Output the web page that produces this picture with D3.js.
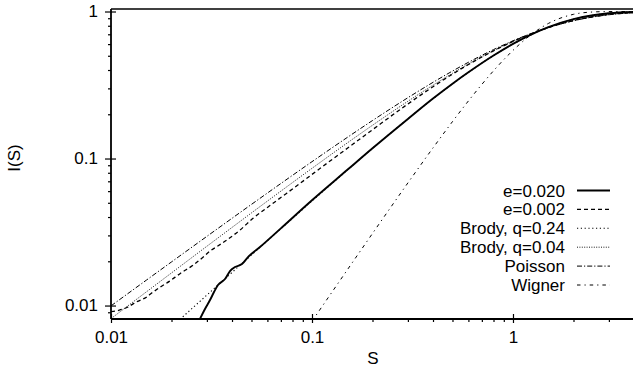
<!DOCTYPE html>
<html>
<head>
<meta charset="utf-8">
<script src="https://cdn.jsdelivr.net/npm/d3@7"></script>
<style>
  body { margin: 0; background: #fff; }
  svg text { font-family: "Liberation Sans", Arial, sans-serif; fill: #000; }
</style>
</head>
<body>
<div id="chart"></div>
<script>
// tick values
const xMajor = [0.01, 0.1, 1];
const yMajor = [0.01, 0.1, 1];
const xMinor = [0.02, 0.03, 0.04, 0.05, 0.06, 0.07, 0.08, 0.09, 0.2, 0.3, 0.4, 0.5, 0.6, 0.7, 0.8, 0.9, 2, 3, 4];
const yMinor = [0.009, 0.02, 0.03, 0.04, 0.05, 0.06, 0.07, 0.08, 0.09, 0.2, 0.3, 0.4, 0.5, 0.6, 0.7, 0.8, 0.9];

// series: S values and I(S) values
const sGrid = [0.01, 0.015, 0.02, 0.03, 0.04, 0.05, 0.07, 0.1, 0.15, 0.2, 0.3, 0.4, 0.5, 0.6, 0.8, 1.0, 1.2, 1.5, 2.0, 2.5, 3.0, 4.0];
const poissonI = [0.00995, 0.01489, 0.0198, 0.02955, 0.03921, 0.04877, 0.06761, 0.09516, 0.1393, 0.1813, 0.2592, 0.3297, 0.3935, 0.4512, 0.5507, 0.6321, 0.6988, 0.7769, 0.8647, 0.9179, 0.9502, 0.9817];
const brody04I = [0.008145, 0.01239, 0.01667, 0.02531, 0.03398, 0.04267, 0.06, 0.08576, 0.1278, 0.1684, 0.2451, 0.3155, 0.38, 0.439, 0.5414, 0.6258, 0.6953, 0.7766, 0.8676, 0.9219, 0.9541, 0.9843];

const brody24S = [0.02, 0.025, 0.03, 0.04, 0.05, 0.07, 0.1, 0.15, 0.2, 0.3, 0.4, 0.5, 0.6, 0.8, 1.0, 1.2, 1.5, 2.0, 2.5, 3.0, 4.0];
const brody24I = [0.007146, 0.009413, 0.011785, 0.0168, 0.02209, 0.03333, 0.05139, 0.08354, 0.1172, 0.1862, 0.255, 0.3217, 0.3853, 0.5011, 0.6003, 0.6832, 0.7804, 0.8853, 0.9425, 0.9722, 0.994];

const wignerS = [0.1, 0.12, 0.15, 0.2, 0.3, 0.4, 0.5, 0.6, 0.7, 0.8, 1.0, 1.2, 1.5, 2.0, 2.5, 3.0, 4.0];
const wignerI = [0.007823, 0.01125, 0.01752, 0.03093, 0.06825, 0.1181, 0.1783, 0.2463, 0.3194, 0.3951, 0.5441, 0.6773, 0.8292, 0.9568, 0.9926, 0.99915, 1.0];

const e020S = [0.0277, 0.02935, 0.03109, 0.03254, 0.03406, 0.03692, 0.03908, 0.04139, 0.04483, 0.04803, 0.0551, 0.07, 0.1, 0.15, 0.2, 0.3, 0.4, 0.5, 0.6, 0.8, 1.0, 1.2, 1.5, 2.0, 2.5, 3.0, 4.0];
const e020I = [0.0081, 0.00947, 0.0109, 0.01235, 0.01378, 0.01515, 0.01717, 0.01827, 0.01915, 0.02137, 0.025, 0.0335, 0.052, 0.0838, 0.1175, 0.186, 0.256, 0.323, 0.386, 0.502, 0.602, 0.685, 0.782, 0.887, 0.943, 0.972, 0.993];

const e002S = [0.01, 0.011, 0.012, 0.0134, 0.015, 0.016, 0.0175, 0.0195, 0.0222, 0.0256, 0.029, 0.0311, 0.034, 0.0378, 0.0438, 0.0509, 0.06, 0.07, 0.085, 0.1, 0.15, 0.2, 0.3, 0.4, 0.5, 0.6, 0.8, 1.0, 1.2, 1.5, 2.0, 2.5, 3.0, 4.0];
const e002I = [0.0091, 0.0093, 0.0097, 0.0106, 0.0114, 0.0122, 0.0133, 0.0146, 0.0166, 0.0188, 0.0216, 0.0235, 0.0254, 0.028, 0.0326, 0.0392, 0.0465, 0.0543, 0.066, 0.078, 0.1175, 0.157, 0.235, 0.308, 0.375, 0.436, 0.54, 0.626, 0.696, 0.777, 0.868, 0.922, 0.954, 0.984];

const legendLabels = ["e=0.020", "e=0.002", "Brody, q=0.24", "Brody, q=0.04", "Poisson", "Wigner"];

const width = 633, height = 370;
const fontSize = "17px";
const svg = d3.select("#chart").append("svg").attr("width", width).attr("height", height);

const x = d3.scaleLog().domain([0.01, 4]).range([111, 634]);
const y = d3.scaleLog().domain([0.0081, 1.04]).range([319, 9]);

const zip = (s, v) => s.map((d, i) => [d, v[i]]);

const series = [
  { pts: zip(e020S, e020I), dash: null, w: 1.9 },
  { pts: zip(e002S, e002I), dash: "4,3", w: 1.3 },
  { pts: zip(brody24S, brody24I), dash: "1.2,2.6", w: 1.1 },
  { pts: zip(sGrid, brody04I), dash: "1,1.4", w: 0.9 },
  { pts: zip(sGrid, poissonI), dash: "5,2,1.2,2", w: 1 },
  { pts: zip(wignerS, wignerI), dash: "3.5,4,1.2,4", w: 1 }
];

svg.append("clipPath").attr("id", "plot-clip")
  .append("rect").attr("x", 111).attr("y", 9).attr("width", 523).attr("height", 310);

const line = d3.line()
  .x(d => x(d[0]))
  .y(d => y(d[1]))
  .curve(d3.curveMonotoneX);

const plot = svg.append("g").attr("clip-path", "url(#plot-clip)");
plot.selectAll("path.curve").data(series).enter().append("path")
  .attr("class", "curve")
  .attr("d", d => line(d.pts))
  .attr("fill", "none")
  .attr("stroke", "#000")
  .attr("stroke-width", d => d.w)
  .attr("stroke-dasharray", d => d.dash);

// frame (top border)
svg.append("line").attr("x1", 111).attr("x2", 633).attr("y1", 9).attr("y2", 9)
  .attr("stroke", "#000").attr("stroke-width", 1.6);

// axes
function styleAxis(g) {
  g.select(".domain").remove();
  g.selectAll("line").attr("stroke", "#000").attr("stroke-width", 1.2);
  g.selectAll("text").style("font-size", fontSize);
}

// x minor ticks (outward)
svg.append("g").attr("transform", "translate(0,319)")
  .call(d3.axisBottom(x).tickValues(xMinor).tickSize(3).tickFormat(""))
  .call(styleAxis);
// x major ticks crossing the axis
svg.append("g").attr("transform", "translate(0,319)")
  .call(d3.axisBottom(x).tickValues(xMajor).tickSize(-5).tickFormat(""))
  .call(styleAxis);
svg.append("g").attr("transform", "translate(0,319)")
  .call(d3.axisBottom(x).tickValues(xMajor).tickSize(4).tickPadding(8).tickFormat(d3.format("~g")))
  .call(styleAxis);

// y minor ticks (outward)
svg.append("g").attr("transform", "translate(111,0)")
  .call(d3.axisLeft(y).tickValues(yMinor).tickSize(3).tickFormat(""))
  .call(styleAxis);
svg.append("g").attr("transform", "translate(111,0)")
  .call(d3.axisLeft(y).tickValues(yMajor).tickSize(-5).tickFormat(""))
  .call(styleAxis);
svg.append("g").attr("transform", "translate(111,0)")
  .call(d3.axisLeft(y).tickValues(yMajor).tickSize(6).tickPadding(7).tickFormat(d3.format("~g")))
  .call(styleAxis);

// axis lines
svg.append("line").attr("x1", 111).attr("x2", 633).attr("y1", 319).attr("y2", 319)
  .attr("stroke", "#000").attr("stroke-width", 1.8);
svg.append("line").attr("x1", 111).attr("x2", 111).attr("y1", 9).attr("y2", 319)
  .attr("stroke", "#000").attr("stroke-width", 1.8);

// axis titles
svg.append("text").attr("x", 373).attr("y", 364).attr("text-anchor", "middle")
  .style("font-size", fontSize).text("S");
svg.append("text").attr("transform", "translate(20,158) rotate(-90)").attr("text-anchor", "middle")
  .style("font-size", fontSize).text("I(S)");

// legend
const legend = svg.append("g");
const rows = legend.selectAll("g").data(legendLabels).enter().append("g")
  .attr("transform", (d, i) => `translate(0,${190.5 + i * 18.9})`);
rows.append("text").attr("x", 565).attr("y", 6).attr("text-anchor", "end")
  .style("font-size", fontSize).text(d => d);
rows.append("line").attr("x1", 577).attr("x2", 610).attr("y1", 0).attr("y2", 0)
  .attr("stroke", "#000")
  .attr("stroke-width", (d, i) => series[i].w)
  .attr("stroke-dasharray", (d, i) => series[i].dash);
</script>
</body>
</html>
